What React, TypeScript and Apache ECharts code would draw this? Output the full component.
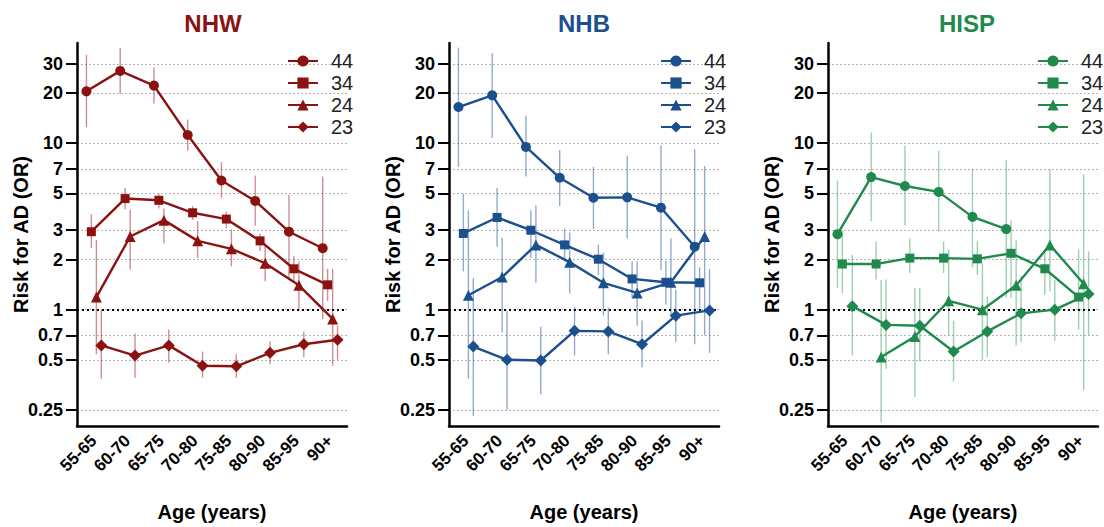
import React, { useEffect, useRef } from 'react';
import * as echarts from 'echarts';

// ---------- data ----------
const AGE_GROUPS = ['55-65', '60-70', '65-75', '70-80', '75-85', '80-90', '85-95', '90+'];
const GENOTYPES = ['44', '34', '24', '23'];
const Y_TICKS = [0.25, 0.5, 0.7, 1, 2, 3, 5, 7, 10, 20, 30];
const REF_OR = 1;

// NHW
const NHW_44 = [20.5, 27.2, 22.2, 11.2, 5.97, 4.5, 2.94, 2.34];
const NHW_44_LO = [12.5, 19.8, 17.3, 9.0, 4.7, 3.2, 1.5, 0.88];
const NHW_44_HI = [34, 37.5, 28.5, 13.9, 7.7, 6.4, 4.9, 6.3];
const NHW_34 = [2.94, 4.65, 4.54, 3.82, 3.5, 2.59, 1.76, 1.41];
const NHW_34_LO = [2.34, 4.01, 4.05, 3.45, 3.08, 2.25, 1.49, 1.13];
const NHW_34_HI = [3.73, 5.38, 4.97, 4.2, 3.87, 2.87, 2.1, 1.76];
const NHW_24 = [1.19, 2.75, 3.45, 2.59, 2.32, 1.9, 1.4, 0.88];
const NHW_24_LO = [0.54, 1.74, 2.5, 2.04, 1.82, 1.48, 0.99, 0.46];
const NHW_24_HI = [2.62, 4.0, 4.05, 3.4, 3.04, 2.5, 1.95, 1.76];
const NHW_23 = [0.61, 0.53, 0.61, 0.46, 0.457, 0.55, 0.62, 0.66];
const NHW_23_LO = [0.385, 0.39, 0.48, 0.39, 0.39, 0.47, 0.52, 0.5];
const NHW_23_HI = [1.0, 0.72, 0.76, 0.56, 0.54, 0.645, 0.74, 0.8];

// NHB
const NHB_44 = [16.5, 19.4, 9.5, 6.2, 4.7, 4.73, 4.1, 2.39];
const NHB_44_LO = [7.2, 10.8, 6.3, 4.2, 3.05, 2.68, 1.73, 0.62];
const NHB_44_HI = [37.5, 34.7, 14.6, 9.1, 7.2, 8.4, 9.7, 9.2];
const NHB_34 = [2.87, 3.58, 3.0, 2.45, 2.01, 1.53, 1.46, 1.45];
const NHB_34_LO = [1.7, 2.39, 2.04, 1.95, 1.62, 1.18, 1.07, 1.0];
const NHB_34_HI = [4.97, 5.38, 3.95, 3.08, 2.45, 1.95, 1.97, 1.8];
const NHB_24 = [1.22, 1.57, 2.45, 1.93, 1.45, 1.26, 1.46, 2.75];
const NHB_24_LO = [0.385, 0.73, 1.45, 1.25, 0.92, 0.8, 0.92, 0.7];
const NHB_24_HI = [3.95, 2.7, 4.24, 2.9, 2.2, 1.95, 2.68, 7.3];
const NHB_23 = [0.6, 0.5, 0.495, 0.746, 0.74, 0.62, 0.92, 0.99];
const NHB_23_LO = [0.23, 0.25, 0.31, 0.53, 0.54, 0.45, 0.64, 0.55];
const NHB_23_HI = [1.55, 0.98, 0.79, 1.04, 1.03, 0.86, 1.32, 1.76];

// HISP
const HISP_44 = [2.84, 6.26, 5.53, 5.1, 3.61, 3.05, null, null];
const HISP_44_LO = [1.35, 3.4, 3.2, 2.94, 1.8, 1.18, null, null];
const HISP_44_HI = [5.97, 11.6, 9.7, 9.0, 7.0, 7.9, null, null];
const HISP_34 = [1.88, 1.88, 2.04, 2.04, 2.02, 2.18, 1.76, 1.19];
const HISP_34_LO = [1.26, 1.52, 1.66, 1.66, 1.62, 1.18, 1.23, 0.76];
const HISP_34_HI = [3.0, 2.57, 2.68, 2.57, 2.57, 3.45, 2.2, 2.3];
const HISP_24 = [null, 0.52, 0.69, 1.13, 1.0, 1.4, 2.45, 1.43];
const HISP_24_LO = [null, 0.21, 0.3, 0.7, 0.5, 0.61, 1.29, 0.33];
const HISP_24_HI = [null, 1.5, 1.35, 2.3, 1.9, 2.6, 7.0, 6.5];
const HISP_23 = [1.05, 0.81, 0.8, 0.56, 0.74, 0.95, 1.0, 1.24];
const HISP_23_LO = [0.53, 0.44, 0.49, 0.37, 0.52, 0.64, 0.65, 0.7];
const HISP_23_HI = [2.13, 1.52, 1.35, 0.86, 1.2, 1.6, 1.5, 2.24];

// ---------- layout / style ----------
const FONT = '"Liberation Sans", Arial, Helvetica, sans-serif';
const DODGE = [-0.22, -0.075, 0.075, 0.22];
const SYMBOLS = ['circle', 'rect', 'triangle', 'diamond'];
const SYMBOL_SIZES = [10, 9, 11, 12];

type Panel = {
  name: string;
  color: string;
  barColor: string;
  left: number;
  titleX: number;
  legendX: number;
  values: (number | null)[][];
  lo: (number | null)[][];
  hi: (number | null)[][];
};

const PANELS: Panel[] = [
  {
    name: 'NHW', color: '#8c1212', barColor: 'rgba(170,50,60,0.55)', left: 77, titleX: 208, legendX: 282,
    values: [NHW_44, NHW_34, NHW_24, NHW_23],
    lo: [NHW_44_LO, NHW_34_LO, NHW_24_LO, NHW_23_LO],
    hi: [NHW_44_HI, NHW_34_HI, NHW_24_HI, NHW_23_HI],
  },
  {
    name: 'NHB', color: '#1c4f8e', barColor: 'rgba(60,100,160,0.55)', left: 449, titleX: 579, legendX: 655,
    values: [NHB_44, NHB_34, NHB_24, NHB_23],
    lo: [NHB_44_LO, NHB_34_LO, NHB_24_LO, NHB_23_LO],
    hi: [NHB_44_HI, NHB_34_HI, NHB_24_HI, NHB_23_HI],
  },
  {
    name: 'HISP', color: '#1f8a4c', barColor: 'rgba(60,160,100,0.5)', left: 828, titleX: 962, legendX: 1032,
    values: [HISP_44, HISP_34, HISP_24, HISP_23],
    lo: [HISP_44_LO, HISP_34_LO, HISP_24_LO, HISP_23_LO],
    hi: [HISP_44_HI, HISP_34_HI, HISP_24_HI, HISP_23_HI],
  },
];

function buildOption() {
  const grid: any[] = [];
  const xAxis: any[] = [];
  const yAxis: any[] = [];
  const title: any[] = [];
  const legend: any[] = [];
  const series: any[] = [];

  PANELS.forEach((p, pi) => {
    grid.push({ left: p.left, top: 43, width: 270, height: 386 });
    title.push({
      text: p.name, left: p.titleX, top: 6, textAlign: 'center',
      textStyle: { color: p.color, fontSize: 24, fontWeight: 'bold', fontFamily: FONT },
    });
    xAxis.push({
      type: 'value', gridIndex: pi, min: -0.5, max: 7.5, show: false, position: 'top',
      axisLine: { onZero: false },
    });
    xAxis.push({
      type: 'category', gridIndex: pi, position: 'bottom', data: AGE_GROUPS, boundaryGap: true,
      axisLine: { onZero: false, lineStyle: { color: '#000', width: 2.5 } },
      axisTick: { alignWithLabel: true, length: 10, lineStyle: { color: '#000', width: 2 } },
      axisLabel: { rotate: 45, interval: 0, color: '#000', fontWeight: 'bold', fontSize: 17, fontFamily: FONT, margin: 12 },
      splitLine: { show: false },
      name: 'Age (years)', nameLocation: 'middle', nameGap: 76, nameMoveOverlap: false,
      nameTextStyle: { color: '#000', fontWeight: 'bold', fontSize: 20, fontFamily: FONT },
    });
    yAxis.push({
      type: 'log', logBase: 10, gridIndex: pi, min: 0.2, max: 40,
      axisLine: { show: true, onZero: false, lineStyle: { color: '#000', width: 2.5 } },
      axisTick: { show: true, length: 11, customValues: Y_TICKS, lineStyle: { color: '#000', width: 2 } },
      axisLabel: {
        customValues: Y_TICKS, color: '#000', fontWeight: 'bold', fontSize: 18, fontFamily: FONT, margin: 14,
        formatter: (v: number) => String(Number(v.toPrecision(3))),
      },
      minorTick: { show: false },
      splitLine: { show: true, lineStyle: { color: '#b5b5b5', width: 1, type: [2, 2] } },
      name: 'Risk for AD (OR)', nameLocation: 'middle', nameGap: 46, nameMoveOverlap: false,
      nameTextStyle: { color: '#000', fontWeight: 'bold', fontSize: 20, fontFamily: FONT },
    });
    legend.push({
      left: p.legendX, top: 46, orient: 'vertical', itemWidth: 30, itemHeight: 14, itemGap: 2,
      data: GENOTYPES.map((g) => `${p.name} ${g}`),
      formatter: (n: string) => n.split(' ')[1],
      textStyle: { fontSize: 20, color: '#222', fontFamily: FONT, lineHeight: 20, padding: [0, 0, 0, 8] },
    });

    GENOTYPES.forEach((g, gi) => {
      const vals = p.values[gi];
      const lo = p.lo[gi];
      const hi = p.hi[gi];
      const pts: number[][] = [];
      const bars: number[][] = [];
      vals.forEach((v, i) => {
        if (v == null) return;
        pts.push([i + DODGE[gi], v]);
        if (lo[i] != null && hi[i] != null) bars.push([i + DODGE[gi], lo[i] as number, hi[i] as number]);
      });
      series.push({
        type: 'custom', name: `${p.name} ${g} CI`, xAxisIndex: pi * 2, yAxisIndex: pi,
        data: bars, z: 1, silent: true,
        encode: { x: 0, y: [1, 2] },
        renderItem: (params: any, api: any) => {
          const x = api.value(0);
          const a = api.coord([x, api.value(1)]);
          const b = api.coord([x, api.value(2)]);
          return {
            type: 'line',
            shape: { x1: a[0], y1: a[1], x2: b[0], y2: b[1] },
            style: { stroke: p.barColor, lineWidth: 1.4 },
          };
        },
      });
      const line: any = {
        type: 'line', name: `${p.name} ${g}`, xAxisIndex: pi * 2, yAxisIndex: pi,
        data: pts, symbol: SYMBOLS[gi], symbolSize: SYMBOL_SIZES[gi], showSymbol: true,
        lineStyle: { color: p.color, width: 2.4 }, itemStyle: { color: p.color }, z: 3,
      };
      if (gi === 0) {
        line.markLine = {
          silent: true, symbol: 'none', label: { show: false }, z: 2,
          lineStyle: { color: '#000', width: 2, type: [2, 3] },
          data: [{ yAxis: REF_OR }],
        };
      }
      series.push(line);
    });
  });

  return { animation: false, backgroundColor: '#fff', textStyle: { fontFamily: FONT }, grid, xAxis, yAxis, title, legend, series };
}

export default function App() {
  const ref = useRef<HTMLDivElement>(null);
  useEffect(() => {
    if (!ref.current) return;
    const chart = echarts.init(ref.current, undefined, { renderer: 'svg' });
    chart.setOption(buildOption() as any);
    return () => chart.dispose();
  }, []);
  return <div ref={ref} style={{ position: 'fixed', left: 0, top: 0, width: 1104, height: 527, background: '#fff' }} />;
}
